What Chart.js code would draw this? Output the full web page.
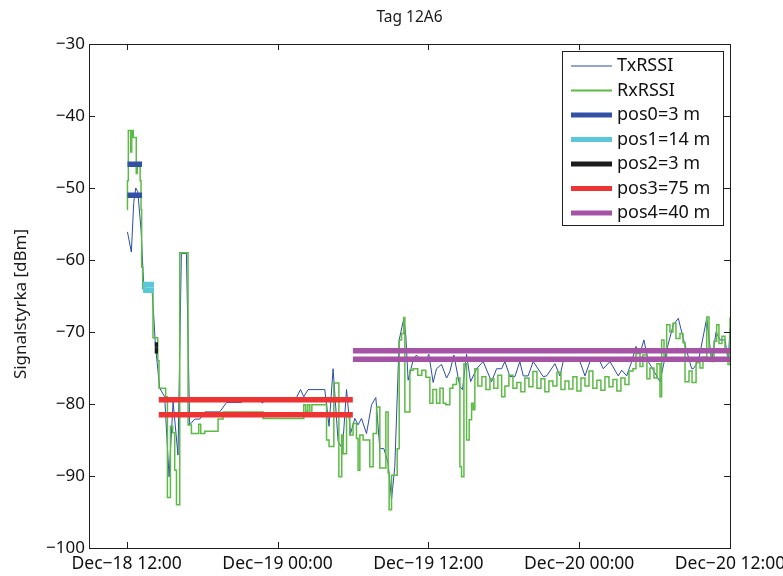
<!DOCTYPE html>
<html>
<head>
<meta charset="utf-8">
<script src="https://cdn.jsdelivr.net/npm/chart.js@4.4.1/dist/chart.umd.min.js"></script>
<style>
html,body{margin:0;padding:0;background:#fff;}
#wrap{width:783px;height:576px;position:relative;}
</style>
</head>
<body>
<div id="wrap"><canvas id="c"></canvas></div>
<script>
// ---- data (time in hours after Dec-18 12:00) ----
const chartTitle = 'Tag 12A6';
const yAxisTitle = 'Signalstyrka [dBm]';
const xTickValues = [0, 12, 24, 36, 48];
const xTickLabels = ['Dec\u221218 12:00', 'Dec\u221219 00:00', 'Dec\u221219 12:00', 'Dec\u221220 00:00', 'Dec\u221220 12:00'];
const yTickValues = [-100, -90, -80, -70, -60, -50, -40, -30];

const txHours = [0.06,0.37,0.56,0.72,0.88,1.15,1.30,1.38,2.01,2.17,2.28,2.63,3.02,3.37,3.69,4.08,4.35,4.75,5.01,5.41,5.81,6.21,7.40,7.94,9.13,9.53,10.45,10.80,11.12,13.51,13.83,14.09,14.43,15.76,16.10,16.42,16.82,17.17,17.49,17.81,18.15,18.41,18.68,19.08,19.48,19.82,20.14,20.46,20.80,21.07,21.33,21.68,22.05,22.21,22.39,22.79,23.06,23.46,23.78,24.04,24.38,24.65,25.05,25.45,25.71,26.03,26.51,26.72,27.04,27.36,27.84,28.36,29.03,29.43,29.83,30.09,30.49,30.89,31.28,31.55,31.94,32.34,33.14,33.41,34.07,34.47,34.73,36.06,36.46,36.86,37.65,37.92,38.45,39.11,39.38,39.78,40.18,40.52,40.84,41.15,41.50,42.43,42.96,43.49,43.89,44.28,44.95,45.08,45.48,46.15,46.54,46.89,47.21,47.60,47.86,48.00];
const txDbm = [-56.1,-58.9,-52,-50,-50.5,-56,-61.6,-64,-64,-68.3,-71.8,-77.8,-79,-90.1,-79.7,-87.1,-59.1,-59.1,-82.9,-82.1,-82.1,-81.1,-81.1,-79.8,-79.8,-79.1,-79.1,-79.9,-79.1,-79.1,-78,-79,-78,-78,-83.1,-75.1,-85.2,-86.2,-78,-84.1,-82,-82.9,-82,-84.1,-80.1,-79.1,-86.2,-86.2,-88.2,-93.3,-88.7,-71.1,-68.1,-70.6,-76.7,-73.9,-73.2,-74,-74,-73.1,-77,-75.1,-74.5,-76.4,-75.5,-73.2,-77.6,-78,-73.1,-76.9,-75.1,-74.1,-76.9,-75.1,-75.1,-74.1,-76.2,-76.2,-74.1,-76.1,-76.1,-74.1,-76.2,-76.1,-74.4,-76.1,-74.1,-74.1,-76.1,-74.1,-74.1,-75.1,-74.1,-76.1,-75.3,-76.1,-74.1,-72,-73,-71.1,-74.1,-76.9,-72.5,-69,-68.1,-70.9,-75.1,-75.1,-74.1,-68.1,-74.1,-70,-71.1,-71.1,-74.1,-69.5];

const rxHours = [0.02,0.06,0.13,0.28,0.32,0.40,0.52,0.68,0.76,0.84,1.00,1.07,1.14,1.19,1.27,2.03,2.09,2.31,2.47,2.57,3.10,3.24,3.48,3.66,3.82,3.96,4.22,4.83,4.88,5.15,5.65,5.73,5.89,6.21,7.27,7.67,9.00,10.72,10.85,12.18,14.03,14.09,14.25,14.41,14.57,14.73,15.76,15.90,16.10,16.48,16.82,16.88,17.11,17.22,17.49,17.75,18.01,18.28,18.41,18.55,18.81,19.21,19.34,19.61,19.88,20.14,20.40,20.62,20.80,20.88,21.07,21.33,21.52,21.68,21.87,22.05,22.13,22.39,22.53,22.79,23.16,23.48,23.80,24.12,24.36,24.65,24.92,25.18,25.39,25.71,25.95,26.24,26.51,26.64,26.83,27.04,27.25,27.44,27.57,27.70,27.94,28.26,28.58,28.90,29.21,29.53,29.83,30.09,30.41,30.73,31.04,31.36,31.68,32.00,32.32,32.64,32.96,33.27,33.59,33.91,34.23,34.55,34.87,35.18,35.50,35.82,36.14,36.46,36.78,37.09,37.41,37.73,38.05,38.37,38.69,39.00,39.32,39.64,39.96,40.28,40.52,40.84,41.07,41.39,41.63,41.95,42.19,42.43,42.56,42.75,42.96,43.22,43.46,43.70,44.02,44.26,44.42,44.74,44.98,45.30,45.61,45.85,46.15,46.33,46.54,46.73,46.94,47.12,47.36,47.60,47.84,48.00];
const rxDbm = [-53,-49,-42,-42,-45,-42,-43,-43,-48,-47,-47,-49,-53,-61,-64,-64,-70.8,-70.8,-74,-77.8,-79,-93,-83.1,-84,-89.2,-94,-59,-59,-82.9,-84.1,-84.1,-82.8,-84.1,-83.8,-82.1,-81.1,-81.1,-81.1,-82,-82,-82,-80.1,-81,-80.1,-81.5,-80.1,-80.1,-85,-85.9,-77.1,-77.1,-90.1,-84.3,-86.9,-81.3,-84.3,-82.7,-84.8,-89.2,-84.3,-85,-85,-88.7,-84.1,-80.4,-88.9,-88.9,-81.1,-89.6,-94.7,-89.9,-89.9,-86.2,-71.1,-70.2,-68,-81.1,-81.1,-75.3,-75.1,-76,-75.3,-76.3,-79.9,-78,-79.9,-77.8,-79.9,-80.1,-77.8,-77.3,-76.4,-88.7,-90.1,-74.4,-85,-82.2,-79.9,-80.8,-75.1,-77.5,-76.2,-78,-76.5,-77.8,-76,-79,-77.5,-76,-77.8,-77,-78.3,-76.4,-77.6,-75.5,-77.8,-76.5,-78.3,-76.8,-77.5,-75.6,-78,-76.8,-77.9,-76.2,-78.2,-76.4,-77.5,-75.4,-77.8,-76.7,-78.1,-76.2,-77.6,-76.6,-78.2,-76.4,-77.3,-75.4,-75.1,-73,-74.8,-73.2,-76.5,-75,-76.4,-74.4,-79,-71.1,-73.5,-69,-70,-68.8,-70.9,-70.2,-71.5,-76.9,-75.4,-77,-74.2,-75,-73.5,-67.9,-72.8,-74.1,-71.3,-69,-71.6,-70.6,-72.4,-74.5,-68];

const posLabels = ['pos0=3 m', 'pos1=14 m', 'pos2=3 m', 'pos3=75 m', 'pos4=40 m'];
const posStart  = [0.06, 1.30, 2.23, 2.55, 18.00];
const posEnd    = [1.22, 2.17, 2.49, 17.99, 48.00];
const posLevelA = [-46.7, -63.4, -71.8, -79.4, -72.6];
const posLevelB = [-51.0, -64.2, -72.6, -81.5, -73.8];
const posColors = ['#3352a5', '#5bc8da', '#1c1c1c', '#ee3333', '#a554a5'];

const txColor = '#2d4ca6';
const rxColor = '#5cbb45';

// ---- build datasets ----
const pts = (xs, ys) => xs.map((x, i) => ({x: x, y: ys[i]}));
const datasets = [];
posLabels.forEach((lab, i) => {
  datasets.push({
    label: lab,
    data: [{x: posStart[i], y: posLevelA[i]}, {x: posEnd[i], y: posLevelA[i]}, {x: posEnd[i], y: null},
           {x: posStart[i], y: posLevelB[i]}, {x: posEnd[i], y: posLevelB[i]}],
    borderColor: posColors[i], borderWidth: 5.5, borderCapStyle: 'butt', spanGaps: false,
    pointRadius: 0, order: 0, legendWidth: 5
  });
});
datasets.unshift({label: 'RxRSSI', data: pts(rxHours, rxDbm), borderColor: rxColor, borderWidth: 1.5, stepped: true, pointRadius: 0, order: 1, legendWidth: 2});
datasets.unshift({label: 'TxRSSI', data: pts(txHours, txDbm), borderColor: txColor, borderWidth: 1, pointRadius: 0, order: 2, legendWidth: 1});

const FONT = 'Noto Sans';

const frame = {
  id: 'frame',
  afterDraw(chart) {
    const {ctx, chartArea: a, scales} = chart;
    ctx.save();
    ctx.strokeStyle = '#1e1e1e';
    ctx.lineWidth = 1;
    ctx.strokeRect(Math.round(a.left) + 0.5, Math.round(a.top) + 0.5, Math.round(a.right - a.left), Math.round(a.bottom - a.top));
    const tl = 6;
    ctx.beginPath();
    xTickValues.forEach(v => {
      const px = Math.round(scales.x.getPixelForValue(v)) + 0.5;
      ctx.moveTo(px, a.bottom); ctx.lineTo(px, a.bottom - tl);
      ctx.moveTo(px, a.top); ctx.lineTo(px, a.top + tl);
    });
    yTickValues.forEach(v => {
      const py = Math.round(scales.y.getPixelForValue(v)) + 0.5;
      ctx.moveTo(a.left, py); ctx.lineTo(a.left + tl, py);
      ctx.moveTo(a.right, py); ctx.lineTo(a.right - tl, py);
    });
    ctx.stroke();
    // title
    ctx.fillStyle = '#1a1a1a';
    ctx.font = '15.5px "' + FONT + '"';
    ctx.textAlign = 'center';
    ctx.textBaseline = 'middle';
    ctx.fillText(chartTitle, (a.left + a.right) / 2, 18);
    // y-axis title
    ctx.save();
    ctx.translate(21, 304);
    ctx.rotate(-Math.PI / 2);
    ctx.font = '17px "' + FONT + '"';
    ctx.fillText(yAxisTitle, 0, 0);
    ctx.restore();
    // legend
    const lx = 562.5, ly = 51.5, lw = 161, lh = 174;
    ctx.fillStyle = '#fff';
    ctx.fillRect(lx, ly, lw, lh);
    ctx.strokeStyle = '#1e1e1e';
    ctx.strokeRect(lx, ly, lw, lh);
    ctx.font = '18px "' + FONT + '"';
    ctx.textAlign = 'left';
    ctx.textBaseline = 'middle';
    chart.data.datasets.forEach((ds, i) => {
      const y = 66 + i * 24.5;
      ctx.strokeStyle = ds.borderColor;
      ctx.lineWidth = ds.legendWidth;
      ctx.lineCap = 'butt';
      ctx.beginPath();
      ctx.moveTo(571, y); ctx.lineTo(612, y);
      ctx.stroke();
      ctx.fillStyle = '#111';
      ctx.fillText(ds.label, 617, y);
    });
    ctx.restore();
  }
};

new Chart(document.getElementById('c'), {
  type: 'line',
  data: {datasets},
  options: {
    responsive: true,
    maintainAspectRatio: false,
    animation: false,
    devicePixelRatio: 1,
    layout: {padding: {top: 44, right: 53, left: 0, bottom: 0}},
    plugins: {legend: {display: false}, title: {display: false}, tooltip: {enabled: false}},
    elements: {line: {tension: 0}},
    scales: {
      x: {
        type: 'linear', min: -3, max: 48,
        grid: {display: false, drawTicks: false},
        border: {display: false},
        afterBuildTicks: s => { s.ticks = xTickValues.map(v => ({value: v})); },
        afterFit: s => { s.height = 28; s.paddingLeft = 0; s.paddingRight = 0; },
        ticks: {
          autoSkip: false, maxRotation: 0, minRotation: 0, padding: 6, color: '#111',
          font: {family: FONT, size: 17.5},
          callback: (v) => { const i = xTickValues.indexOf(v); return i >= 0 ? xTickLabels[i] : ''; }
        }
      },
      y: {
        type: 'linear', min: -100, max: -30,
        grid: {display: false, drawTicks: false},
        border: {display: false},
        afterBuildTicks: s => { s.ticks = yTickValues.map(v => ({value: v})); },
        afterFit: s => { s.width = 89; },
        ticks: {
          padding: 4, color: '#111',
          font: {family: FONT, size: 17},
          callback: (v) => (v < 0 ? '\u2212' + Math.abs(v) : String(v))
        }
      }
    }
  },
  plugins: [frame]
});
</script>
</body>
</html>
